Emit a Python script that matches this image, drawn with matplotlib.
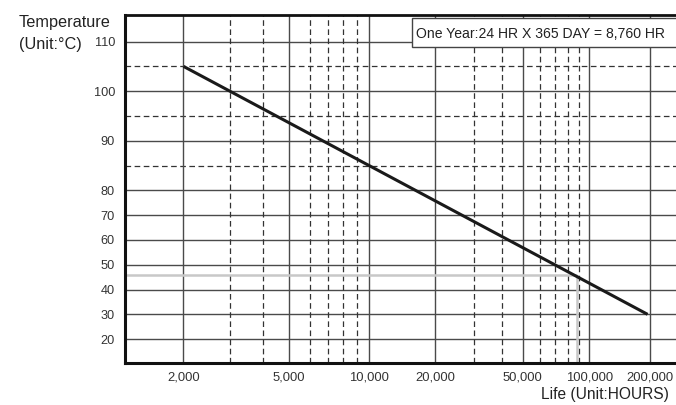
import numpy as np
import matplotlib
matplotlib.use("Agg")
import matplotlib.pyplot as plt
from matplotlib.patches import Rectangle

plt.rcParams['font.family'] = ['Liberation Sans', 'DejaVu Sans']

# ---- data ----
life_hours = [2000, 195000]          # life curve end points (hours)
life_temps = [105, 30]               # temperature (deg C)
ten_year_hours = 87600               # 10 years of operation
ten_year_temp = 46                   # matching temperature

major_temps = [20, 30, 40, 50, 60, 70, 80, 90, 100, 110]
dashed_temps = [85, 95, 105]
major_hours = [2000, 5000, 10000, 20000, 50000, 100000, 200000]
minor_hours = [3000, 4000, 6000, 7000, 8000, 9000,
               30000, 40000, 60000, 70000, 80000, 90000]
hour_labels = ['2,000', '5,000', '10,000', '20,000', '50,000', '100,000', '200,000']

# ---- scales (chart uses uneven log decades and a compressed low-temp range) ----
W1, W2, W3 = 265.0, 220.6, 201.0   # relative decade widths


def fwd_x(x):
    u = np.log10(np.clip(np.asarray(x, dtype=float), 1e-9, None))
    return np.where(u <= 4, (u - 4) * W1,
                    np.where(u <= 5, (u - 4) * W2, W2 + (u - 5) * W3))


def inv_x(t):
    t = np.asarray(t, dtype=float)
    u = np.where(t <= 0, 4 + t / W1,
                 np.where(t <= W2, 4 + t / W2, 5 + (t - W2) / W3))
    return 10 ** u


def fwd_y(y):
    y = np.asarray(y, dtype=float)
    return np.where(y <= 80, y, 80 + 2 * (y - 80))


def inv_y(t):
    t = np.asarray(t, dtype=float)
    return np.where(t <= 80, t, 80 + (t - 80) / 2)


W, H = 676, 405
fig = plt.figure(figsize=(W / 100, H / 100), dpi=100)
ax = fig.add_axes([124.7 / W, (H - 362.7) / H, (W - 124.7) / W, (362.7 - 15.3) / H])
ax.set_xscale('function', functions=(fwd_x, inv_x))
ax.set_yscale('function', functions=(fwd_y, inv_y))
ax.set_xlim(1200, 270000)
ax.set_ylim(10.5, 115.3)

# grid
for t in major_temps:
    ax.axhline(t, color='#4a4a4a', lw=1.0, zorder=1)
for t in dashed_temps:
    ax.axhline(t, color='#333333', lw=0.9, ls=(0, (4.5, 2.8)), zorder=1)
for h in major_hours:
    ax.axvline(h, color='#4a4a4a', lw=1.0, zorder=1)
for h in minor_hours:
    ax.axvline(h, color='#333333', lw=0.9, ls=(0, (4.5, 2.8)), zorder=1)

# 10-year reference lines
ax.plot([ax.get_xlim()[0], ten_year_hours], [ten_year_temp, ten_year_temp],
        color='#c8c8c8', lw=1.8, zorder=2, solid_capstyle='butt')
ax.plot([ten_year_hours, ten_year_hours], [ax.get_ylim()[0], ten_year_temp],
        color='#c8c8c8', lw=1.8, zorder=2, solid_capstyle='butt')

# life line
ax.plot(life_hours, life_temps, color='#1a1a1a', lw=2.2, zorder=3,
        solid_capstyle='butt')

# ticks
ax.set_yticks(major_temps)
ax.set_yticklabels([str(t) for t in major_temps])
ax.set_xticks(major_hours)
ax.set_xticklabels(hour_labels)
ax.minorticks_off()
ax.tick_params(axis='y', length=0, pad=7, labelsize=9.2, labelcolor='#333333')
ax.tick_params(axis='x', length=0, pad=6, labelsize=9.4, labelcolor='#333333')

for s in ['left', 'bottom', 'top']:
    ax.spines[s].set_color('#111111')
ax.spines['left'].set_linewidth(2.2)
ax.spines['bottom'].set_linewidth(2.2)
ax.spines['top'].set_linewidth(2.0)
ax.spines['right'].set_visible(False)

# axis titles
fig.text(19 / W, 1 - 26.5 / H, 'Temperature', ha='left', va='baseline',
         fontsize=11.7, color='#222222')
fig.text(18.5 / W, 1 - 49 / H, '(Unit:°C)', ha='left', va='baseline',
         fontsize=11.7, color='#222222')
fig.text(541 / W, 1 - 399 / H, 'Life (Unit:HOURS)', ha='left', va='baseline',
         fontsize=11.2, color='#222222')

# annotation box
fig.patches.append(Rectangle((411.7 / W, 1 - 46.7 / H), (W + 5 - 411.7) / W, 29 / H,
                             transform=fig.transFigure, facecolor='white',
                             edgecolor='#444444', lw=1.0, zorder=5))
fig.text(416.5 / W, 1 - 37.5 / H, 'One Year:24 HR X 365 DAY = 8,760 HR',
         ha='left', va='baseline', fontsize=10.1, color='#222222', zorder=6)

fig.savefig('out.png', dpi=100)
